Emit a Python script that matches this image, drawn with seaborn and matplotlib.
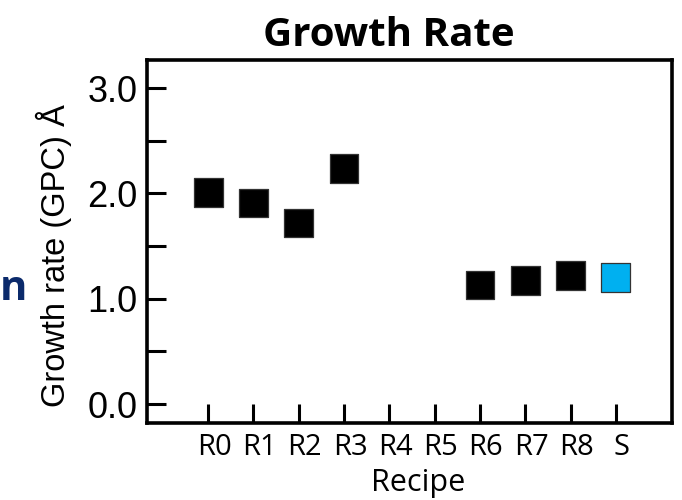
import numpy as np
import pandas as pd
import matplotlib
matplotlib.use('Agg')
import matplotlib.pyplot as plt
import matplotlib.transforms as mtransforms
import seaborn as sns

# data
recipes = ['R0', 'R1', 'R2', 'R3', 'R4', 'R5', 'R6', 'R7', 'R8', 'S']
gpc = [2.01, 1.91, 1.72, 2.24, np.nan, np.nan, 1.13, 1.17, 1.22, 1.20]
group = ['recipe'] * 9 + ['standard']

yticks = [0.0, 0.5, 1.0, 1.5, 2.0, 2.5, 3.0]
ytick_labels = ['0.0', '', '1.0', '', '2.0', '', '3.0']

df = pd.DataFrame({'Recipe': recipes, 'GPC': gpc, 'group': group})
df['pos'] = np.arange(len(recipes))

sns.set_style('white')
plt.rcParams['font.family'] = ['Liberation Sans', 'DejaVu Sans']
plt.rcParams['text.color'] = 'black'
plt.rcParams['axes.labelcolor'] = 'black'
plt.rcParams['xtick.color'] = 'black'
plt.rcParams['ytick.color'] = 'black'

fig = plt.figure(figsize=(6.82, 5.0), dpi=100)
ax = fig.add_axes([0.2155, 0.154, 0.7698, 0.726])

sns.scatterplot(data=df, x='pos', y='GPC', hue='group', style='group',
                palette={'recipe': 'black', 'standard': '#00B0F0'},
                markers={'recipe': 's', 'standard': 's'},
                s=430, linewidth=0.9, edgecolor=['#333333'] * 9 + ['#1F3864'],
                legend=False, ax=ax)

ax.set_xlim(-1.35, 10.24)
ax.set_ylim(-0.18, 3.267)
ax.set_xticks(df['pos'])
ax.set_xticklabels(recipes, family='Open Sans', fontsize=21)
ax.set_yticks(yticks)
ax.set_yticklabels(ytick_labels, fontsize=26)

ax.tick_params(axis='both', direction='in', length=14, width=2.2,
               bottom=True, left=True, top=False, right=False)
ax.tick_params(axis='y', pad=7)
ax.tick_params(axis='x', pad=7)
for sp in ax.spines.values():
    sp.set_linewidth(2.6)
    sp.set_color('black')

# labels sit a little right of their ticks in the original
shift = mtransforms.ScaledTranslation(0.06, 0, fig.dpi_scale_trans)
for lbl in ax.get_xticklabels():
    lbl.set_transform(lbl.get_transform() + shift)

ax.set_xlabel('Recipe', family='Open Sans', fontsize=22)
ax.xaxis.set_label_coords(0.516, -0.125)
ax.set_ylabel('Growth rate (GPC) Å', fontsize=23.5)
ax.yaxis.set_label_coords(-0.143, 0.46)

fig.text(0.57, 0.93, 'Growth Rate', family='Open Sans', weight='bold',
         fontsize=29, ha='center', va='center')
fig.text(0.0, 0.4, 'n', family='Open Sans', weight='bold', fontsize=30,
         color='#0B2A6B', ha='left', va='baseline')

fig.savefig('out.png', dpi=100)
